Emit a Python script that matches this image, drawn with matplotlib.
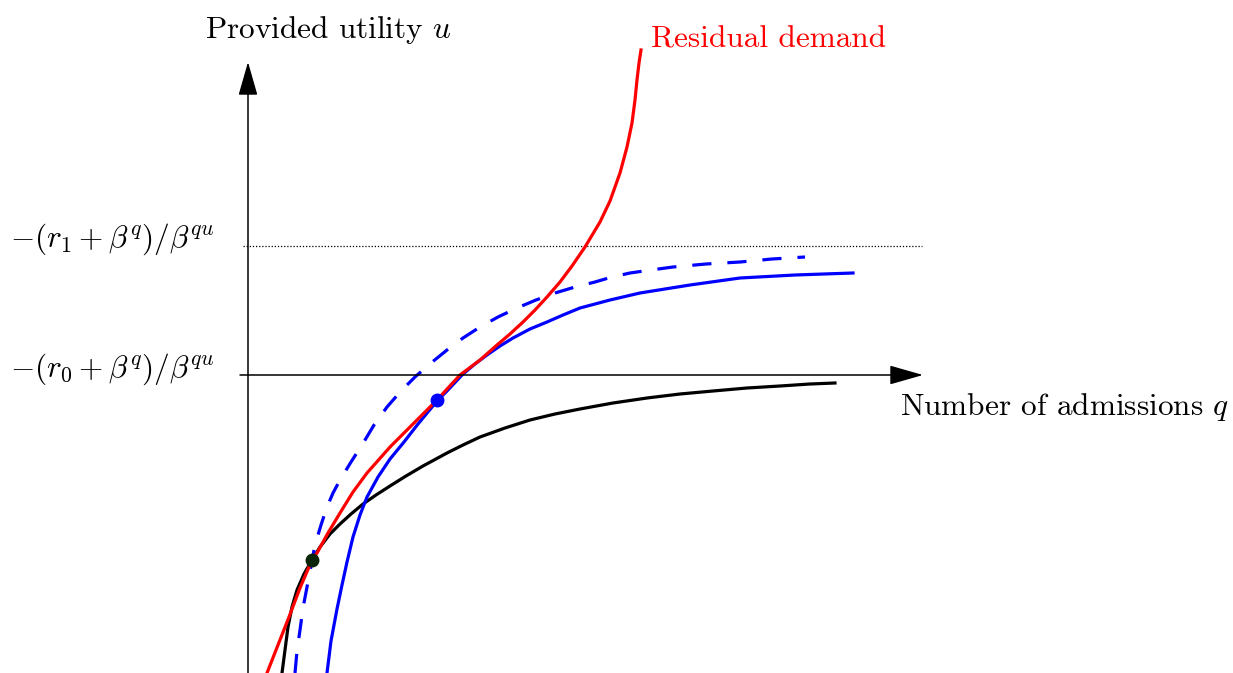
import matplotlib
matplotlib.use("Agg")
import matplotlib.pyplot as plt

plt.rcParams["mathtext.fontset"] = "cm"
plt.rcParams["font.family"] = "cmr10"
plt.rcParams["axes.formatter.use_mathtext"] = True

# curves (q = admissions, u = utility)
red_q = [0.19, 0.30, 0.41, 0.52, 0.64, 0.69, 0.80, 0.92, 1.05, 1.19, 1.42, 1.69, 1.89, 2.00, 2.12,
         2.32, 2.49, 2.62, 2.75, 2.87, 2.99, 3.12, 3.24, 3.37, 3.52, 3.62, 3.72, 3.79, 3.84, 3.87,
         3.89, 3.91, 3.93]
red_u = [-2.98, -2.70, -2.42, -2.13, -1.85, -1.78, -1.58, -1.38, -1.17, -0.98, -0.72, -0.45, -0.25, -0.13, 0.00,
         0.15, 0.30, 0.41, 0.53, 0.65, 0.78, 0.93, 1.09, 1.28, 1.53, 1.74, 2.02, 2.28, 2.52, 2.75,
         2.95, 3.12, 3.25]

black_q = [0.34, 0.37, 0.40, 0.44, 0.49, 0.56, 0.64, 0.72, 0.82, 0.92, 1.03, 1.15, 1.28, 1.42, 1.58,
           1.75, 1.99, 2.15, 2.32, 2.57, 2.82, 3.07, 3.32, 3.65, 3.99, 4.32, 4.65, 4.99, 5.32, 5.62, 5.87]
black_u = [-2.98, -2.75, -2.52, -2.32, -2.15, -1.99, -1.85, -1.72, -1.59, -1.49, -1.39, -1.29, -1.20, -1.11, -1.01,
           -0.91, -0.78, -0.70, -0.62, -0.53, -0.45, -0.39, -0.34, -0.28, -0.23, -0.19, -0.16, -0.13, -0.11, -0.09, -0.08]

blue_q = [0.79, 0.83, 0.89, 0.94, 0.99, 1.05, 1.12, 1.19, 1.30, 1.42, 1.56, 1.70, 1.89, 1.99, 2.15,
          2.27, 2.39, 2.52, 2.65, 2.82, 2.99, 3.15, 3.32, 3.62, 3.92, 4.42, 4.92, 5.47, 6.05]
blue_u = [-2.98, -2.66, -2.34, -2.10, -1.87, -1.62, -1.40, -1.22, -1.02, -0.84, -0.67, -0.49, -0.26, -0.16, 0.01,
          0.11, 0.20, 0.29, 0.37, 0.46, 0.53, 0.60, 0.67, 0.75, 0.82, 0.90, 0.97, 1.00, 1.02]

dash_q = [0.47, 0.49, 0.52, 0.55, 0.59, 0.63, 0.67, 0.73, 0.79, 0.85, 0.92, 1.03, 1.14, 1.26, 1.39,
          1.53, 1.67, 1.83, 1.99, 2.15, 2.32, 2.50, 2.69, 2.88, 3.07, 3.27, 3.47, 3.64, 3.82, 4.03,
          4.25, 4.58, 4.92, 5.24, 5.57]
dash_u = [-2.98, -2.76, -2.55, -2.33, -2.12, -1.91, -1.70, -1.50, -1.32, -1.18, -1.05, -0.87, -0.70, -0.50, -0.32,
          -0.16, -0.02, 0.12, 0.25, 0.37, 0.48, 0.58, 0.67, 0.75, 0.82, 0.88, 0.93, 0.98, 1.02, 1.05,
          1.08, 1.11, 1.13, 1.16, 1.18]

eq_black = (0.64, -1.85)
eq_blue = (1.89, -0.25)
u_r1 = 1.29  # dotted level

fig = plt.figure(figsize=(12.33, 6.73), dpi=100)
ax = fig.add_axes([0, 0, 1, 1])
ax.set_xlim(-2.48, 9.85)
ax.set_ylim(-2.98, 3.75)
ax.axis("off")

# axes with arrows
arrow = dict(arrowstyle="-|>,head_length=2.1,head_width=0.6", color="k", lw=1.1, shrinkA=0, shrinkB=0)
ax.annotate("", xy=(6.75, 0), xytext=(-0.08, 0), arrowprops=arrow)
ax.annotate("", xy=(0, 3.13), xytext=(0, -3.0), arrowprops=arrow)
ax.plot([-0.05, 6.74], [u_r1, u_r1], color="k", lw=0.9, ls=(0, (1, 1.5)))

lw = 2.3
ax.plot(black_q, black_u, color="k", lw=lw)
ax.plot(dash_q, dash_u, color="blue", lw=lw, ls=(0, (6, 5)))
ax.plot(blue_q, blue_u, color="blue", lw=lw)
ax.plot(red_q, red_u, color="red", lw=lw)

ax.plot(*eq_black, "o", color="#0a240a", ms=9, zorder=5)
ax.plot(*eq_blue, "o", color="blue", ms=9, zorder=5)

fs = 22.5
ax.text(0.8, 3.45, r"Provided utility $u$", fontsize=fs, ha="center", va="center")
ax.text(6.52, -0.32, r"Number of admissions $q$", fontsize=fs, ha="left", va="center")
ax.text(4.03, 3.35, "Residual demand", fontsize=fs, color="red", ha="left", va="center")
ax.text(-1.355, 1.36, r"$-(r_1+\beta^q)/\beta^{qu}$", fontsize=fs, ha="center", va="center")
ax.text(-1.355, 0.06, r"$-(r_0+\beta^q)/\beta^{qu}$", fontsize=fs, ha="center", va="center")

fig.savefig("out.png", dpi=100)
